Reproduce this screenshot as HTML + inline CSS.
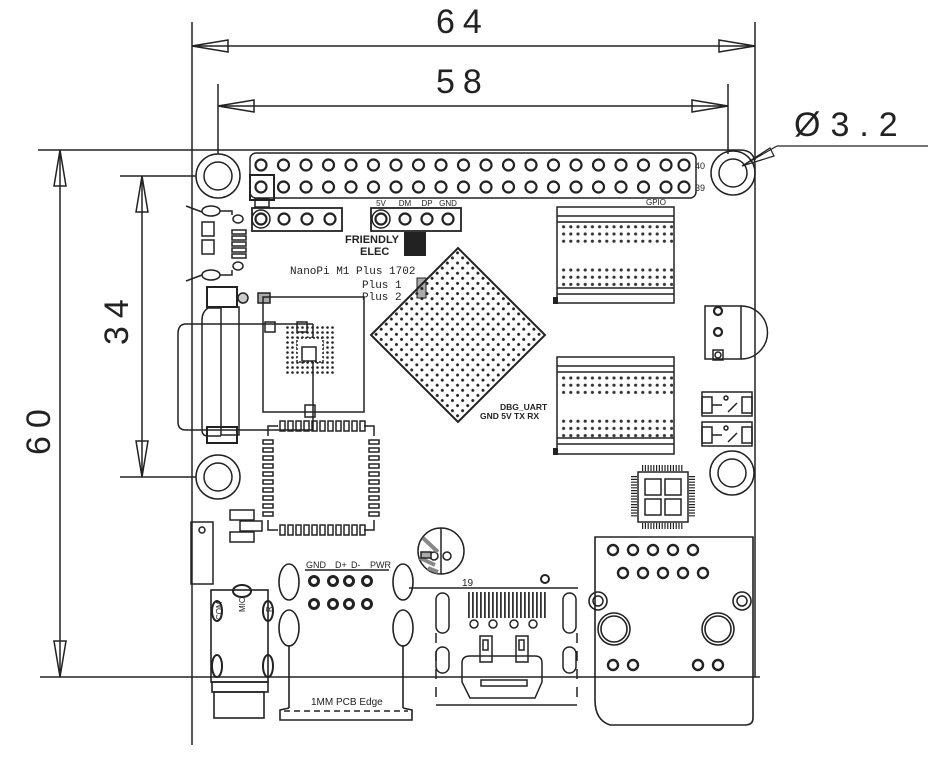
<!DOCTYPE html>
<html><head><meta charset="utf-8"><style>
html,body{margin:0;padding:0;background:#fff;width:951px;height:768px;overflow:hidden}
svg{display:block}
text{font-family:"Liberation Sans",sans-serif;fill:#222}
</style></head><body>
<svg width="951" height="768" viewBox="0 0 951 768" xmlns="http://www.w3.org/2000/svg">
<defs>
<pattern id="bga" x="0" y="0" width="7.2" height="7.2" patternUnits="userSpaceOnUse"><circle cx="3.6" cy="3.6" r="1.5" fill="#222"/></pattern>
<pattern id="ram" x="560" y="0" width="7.2" height="7.2" patternUnits="userSpaceOnUse"><circle cx="3.6" cy="3.6" r="1.6" fill="#333"/></pattern>
<pattern id="emmc" x="0" y="0" width="5" height="5" patternUnits="userSpaceOnUse"><circle cx="2.5" cy="2.5" r="1.3" fill="#222"/></pattern>
<pattern id="hdmi" x="0" y="0" width="4" height="10" patternUnits="userSpaceOnUse"><rect x="0" y="0" width="1.8" height="10" fill="#333"/></pattern>
</defs>
<g fill="none" stroke="#222" stroke-width="1.5">
<line x1="192" y1="22" x2="192" y2="745"/>
<line x1="755" y1="22" x2="755" y2="160"/>
<line x1="192" y1="46" x2="755" y2="46"/>
<polygon points="192,46 228,40 228,52"/><polygon points="755,46 719,40 719,52"/>
<line x1="218" y1="84" x2="218" y2="154"/>
<line x1="728" y1="84" x2="728" y2="154"/>
<line x1="218" y1="106" x2="728" y2="106"/>
<polygon points="218,106 254,100 254,112"/><polygon points="728,106 692,100 692,112"/>
<line x1="38" y1="150" x2="740" y2="150"/>
<line x1="60" y1="150" x2="60" y2="677"/>
<polygon points="60,150 54,186 66,186"/><polygon points="60,677 54,641 66,641"/>
<line x1="120" y1="176" x2="196" y2="176"/>
<line x1="120" y1="477" x2="196" y2="477"/>
<line x1="142" y1="176" x2="142" y2="477"/>
<polygon points="142,176 136,212 148,212"/><polygon points="142,477 136,441 148,441"/>
<line x1="40" y1="677" x2="760" y2="677"/>
<line x1="777" y1="146" x2="928" y2="146" stroke-width="1.2"/>
<line x1="777" y1="146" x2="742" y2="166" stroke-width="1.2"/>
<polygon points="742,166 770,148 774,156" stroke-width="1.2"/>
<path d="M740,150 Q755,150 755,165 L755,677"/>
<circle cx="218" cy="176" r="22"/><circle cx="218" cy="176" r="14"/>
<circle cx="733" cy="173" r="22"/><circle cx="733" cy="173" r="14"/>
<circle cx="218" cy="477" r="22"/><circle cx="218" cy="477" r="14"/>
<circle cx="732" cy="473" r="22"/><circle cx="732" cy="473" r="14"/>
<rect x="250" y="153" width="446" height="45" rx="6"/>
<rect x="250" y="175" width="24" height="25" stroke-width="2"/>
<rect x="255" y="199" width="14" height="8"/>
</g>
<g fill="none" stroke="#222" stroke-width="2.2">
<circle cx="261" cy="165" r="5.5"/><circle cx="283.5" cy="165" r="5.5"/><circle cx="306" cy="165" r="5.5"/><circle cx="328.5" cy="165" r="5.5"/><circle cx="351" cy="165" r="5.5"/><circle cx="373.5" cy="165" r="5.5"/><circle cx="396" cy="165" r="5.5"/><circle cx="418.5" cy="165" r="5.5"/><circle cx="441" cy="165" r="5.5"/><circle cx="463.5" cy="165" r="5.5"/><circle cx="486" cy="165" r="5.5"/><circle cx="508.5" cy="165" r="5.5"/><circle cx="531" cy="165" r="5.5"/><circle cx="553.5" cy="165" r="5.5"/><circle cx="576" cy="165" r="5.5"/><circle cx="598.5" cy="165" r="5.5"/><circle cx="621" cy="165" r="5.5"/><circle cx="643.5" cy="165" r="5.5"/><circle cx="666" cy="165" r="5.5"/><circle cx="684" cy="165" r="5.5"/>
<circle cx="261" cy="187" r="5.5"/><circle cx="283.5" cy="187" r="5.5"/><circle cx="306" cy="187" r="5.5"/><circle cx="328.5" cy="187" r="5.5"/><circle cx="351" cy="187" r="5.5"/><circle cx="373.5" cy="187" r="5.5"/><circle cx="396" cy="187" r="5.5"/><circle cx="418.5" cy="187" r="5.5"/><circle cx="441" cy="187" r="5.5"/><circle cx="463.5" cy="187" r="5.5"/><circle cx="486" cy="187" r="5.5"/><circle cx="508.5" cy="187" r="5.5"/><circle cx="531" cy="187" r="5.5"/><circle cx="553.5" cy="187" r="5.5"/><circle cx="576" cy="187" r="5.5"/><circle cx="598.5" cy="187" r="5.5"/><circle cx="621" cy="187" r="5.5"/><circle cx="643.5" cy="187" r="5.5"/><circle cx="666" cy="187" r="5.5"/><circle cx="684" cy="187" r="5.5"/>
<rect x="252" y="208" width="90" height="23" stroke-width="1.8"/>
<circle cx="261" cy="219" r="9" stroke-width="1.5"/>
<circle cx="261" cy="219" r="5.5"/><circle cx="284" cy="219" r="5.5"/><circle cx="307" cy="219" r="5.5"/><circle cx="330" cy="219" r="5.5"/>
<rect x="371" y="208" width="90" height="23" stroke-width="1.8"/>
<circle cx="381" cy="219" r="9" stroke-width="1.5"/>
<circle cx="381" cy="219" r="5.5"/><circle cx="405" cy="219" r="5.5"/><circle cx="427" cy="219" r="5.5"/><circle cx="448" cy="219" r="5.5"/>
</g>
<g font-size="8" text-anchor="middle">
<text x="381" y="206">5V</text><text x="405" y="206">DM</text><text x="427" y="206">DP</text><text x="448" y="206">GND</text>
<text x="700" y="169" font-size="9">40</text><text x="700" y="191" font-size="9">39</text>
<text x="656" y="205">GPIO</text>
</g>
<text x="345" y="243" font-size="11" font-weight="bold">FRIENDLY</text>
<text x="360" y="255" font-size="11" font-weight="bold">ELEC</text>
<rect x="404" y="232" width="22" height="24" fill="#222"/>
<text x="290" y="274" font-size="11" style="font-family:'Liberation Mono',monospace">NanoPi M1 Plus 1702</text>
<text x="362" y="288" font-size="11" style="font-family:'Liberation Mono',monospace">Plus 1</text>
<text x="362" y="300" font-size="11" style="font-family:'Liberation Mono',monospace">Plus 2</text>
<rect x="417" y="278" width="9" height="20" fill="#aaa" stroke="#222"/>
<g transform="rotate(45 458 335)">
<rect x="396.5" y="273.5" width="123" height="123" fill="url(#bga)" stroke="#222" stroke-width="2"/>
</g>
<text x="500" y="410" font-size="8.5" font-weight="bold">DBG_UART</text>
<text x="480" y="419" font-size="8.5" font-weight="bold">GND 5V TX RX</text>
<g fill="none" stroke="#222" stroke-width="1.5">
<rect x="557" y="207" width="117" height="96"/>
<line x1="557" y1="216" x2="674" y2="216"/><line x1="557" y1="222" x2="674" y2="222"/>
<line x1="557" y1="288" x2="674" y2="288"/><line x1="557" y1="294" x2="674" y2="294"/>
<rect x="557" y="357" width="117" height="97"/>
<line x1="557" y1="366" x2="674" y2="366"/><line x1="557" y1="372" x2="674" y2="372"/>
<line x1="557" y1="438" x2="674" y2="438"/><line x1="557" y1="444" x2="674" y2="444"/>
</g>
<rect x="558" y="224" width="115" height="22" fill="url(#ram)"/>
<rect x="558" y="266" width="115" height="22" fill="url(#ram)"/>
<rect x="558" y="374" width="115" height="22" fill="url(#ram)"/>
<rect x="558" y="416" width="115" height="22" fill="url(#ram)"/>
<rect x="553" y="297" width="5" height="7" fill="#222"/><rect x="553" y="448" width="5" height="7" fill="#222"/>
<g fill="none" stroke="#222" stroke-width="1.5">
<rect x="705" y="306" width="36" height="53"/>
<path d="M741,306 A26,26 0 0 1 741,359"/>
<circle cx="718" cy="311" r="4" stroke-width="2.2"/><circle cx="718" cy="332" r="4" stroke-width="2.2"/>
<rect x="713" y="350" width="10" height="10"/><circle cx="718" cy="355" r="3"/>
<rect x="702" y="392" width="50" height="24"/><rect x="702" y="397" width="10" height="16"/><rect x="742" y="397" width="10" height="16"/>
<circle cx="726" cy="398" r="2"/><line x1="712" y1="405" x2="722" y2="405"/><line x1="728" y1="412" x2="737" y2="403"/>
<rect x="702" y="422" width="50" height="24"/><rect x="702" y="427" width="10" height="16"/><rect x="742" y="427" width="10" height="16"/>
<circle cx="726" cy="428" r="2"/><line x1="712" y1="435" x2="722" y2="435"/><line x1="728" y1="442" x2="737" y2="433"/>
<rect x="202" y="222" width="12" height="14"/><rect x="202" y="240" width="12" height="14"/>
<ellipse cx="211" cy="211" rx="9" ry="5"/><ellipse cx="211" cy="275" rx="9" ry="5"/>
<ellipse cx="238" cy="219" rx="5" ry="4"/><ellipse cx="238" cy="266" rx="5" ry="4"/>
<rect x="232" y="230" width="14" height="4"/><rect x="232" y="236" width="14" height="4"/><rect x="232" y="242" width="14" height="4"/><rect x="232" y="248" width="14" height="4"/><rect x="232" y="254" width="14" height="4"/>
<polyline points="220,211 232,211 232,215"/><polyline points="220,275 232,275 232,270"/>
<line x1="186" y1="206" x2="202" y2="212"/><line x1="186" y1="281" x2="202" y2="275"/>
<rect x="207" y="287" width="30" height="20" stroke-width="2"/>
<circle cx="243" cy="298" r="5" fill="#ccc"/>
<path d="M221,308 L208,308 Q202,312 202,320 L202,430 Q202,436 208,436 L221,436"/>
<rect x="221" y="307" width="18" height="128"/>
<rect x="207" y="427" width="30" height="16" stroke-width="2"/>
<path d="M313,324 L186,324 Q178,324 178,334 L178,422 Q178,430 186,430 L313,430 L313,324"/>
<rect x="258" y="293" width="12" height="10" fill="#aaa"/>
<rect x="263" y="297" width="101" height="115"/>
<rect x="265" y="322" width="10" height="10"/>
<rect x="297" y="322" width="10" height="10"/>
<rect x="305" y="405" width="10" height="12"/>
</g>
<rect x="284" y="325" width="52" height="50" fill="url(#emmc)"/>
<rect x="297" y="338" width="26" height="24" fill="#fff" stroke="#222" stroke-width="1.5" stroke-dasharray="2 2"/>
<rect x="302" y="347" width="14" height="14" fill="#fff" stroke="#222" stroke-width="1.5"/>
<g fill="none" stroke="#222" stroke-width="1.5">
<polyline points="278,426 268,426 268,436"/><polyline points="364,426 374,426 374,436"/>
<polyline points="268,520 268,530 278,530"/><polyline points="364,530 374,530 374,520"/>
<rect x="280" y="421" width="5" height="10"/><rect x="288" y="421" width="5" height="10"/><rect x="296" y="421" width="5" height="10"/><rect x="304" y="421" width="5" height="10"/><rect x="312" y="421" width="5" height="10"/><rect x="320" y="421" width="5" height="10"/><rect x="328" y="421" width="5" height="10"/><rect x="336" y="421" width="5" height="10"/><rect x="344" y="421" width="5" height="10"/><rect x="352" y="421" width="5" height="10"/><rect x="360" y="421" width="5" height="10"/>
<rect x="280" y="525" width="5" height="10"/><rect x="288" y="525" width="5" height="10"/><rect x="296" y="525" width="5" height="10"/><rect x="304" y="525" width="5" height="10"/><rect x="312" y="525" width="5" height="10"/><rect x="320" y="525" width="5" height="10"/><rect x="328" y="525" width="5" height="10"/><rect x="336" y="525" width="5" height="10"/><rect x="344" y="525" width="5" height="10"/><rect x="352" y="525" width="5" height="10"/><rect x="360" y="525" width="5" height="10"/>
<rect x="263" y="440" width="10" height="4"/><rect x="263" y="448" width="10" height="4"/><rect x="263" y="456" width="10" height="4"/><rect x="263" y="464" width="10" height="4"/><rect x="263" y="472" width="10" height="4"/><rect x="263" y="480" width="10" height="4"/><rect x="263" y="488" width="10" height="4"/><rect x="263" y="496" width="10" height="4"/><rect x="263" y="504" width="10" height="4"/><rect x="263" y="512" width="10" height="4"/>
<rect x="369" y="440" width="10" height="4"/><rect x="369" y="448" width="10" height="4"/><rect x="369" y="456" width="10" height="4"/><rect x="369" y="464" width="10" height="4"/><rect x="369" y="472" width="10" height="4"/><rect x="369" y="480" width="10" height="4"/><rect x="369" y="488" width="10" height="4"/><rect x="369" y="496" width="10" height="4"/><rect x="369" y="504" width="10" height="4"/><rect x="369" y="512" width="10" height="4"/>
<rect x="230" y="510" width="24" height="10"/><rect x="240" y="521" width="22" height="10"/><rect x="230" y="532" width="24" height="10"/>
<rect x="191" y="522" width="22" height="62"/><circle cx="202" cy="530" r="3"/>
<rect x="638" y="472" width="50" height="50"/>
<rect x="645" y="479" width="16" height="16"/><rect x="665" y="479" width="16" height="16"/><rect x="645" y="499" width="16" height="16"/><rect x="665" y="499" width="16" height="16"/>
<path d="M642,468 h42 M642,526 h42 M634,476 v42 M692,476 v42" stroke-width="6" stroke-dasharray="1.2 1.6"/>
</g>
<g fill="none" stroke="#222" stroke-width="1.6">
<rect x="211" y="590" width="57" height="92"/>
<rect x="212" y="682" width="56" height="10"/>
<rect x="214" y="692" width="50" height="26"/>
<ellipse cx="217" cy="611" rx="5" ry="10" stroke-width="2"/><ellipse cx="242" cy="591" rx="9" ry="6" stroke-width="2"/><ellipse cx="268" cy="611" rx="5" ry="10" stroke-width="2"/>
<ellipse cx="217" cy="666" rx="5" ry="11" stroke-width="2"/><ellipse cx="268" cy="666" rx="5" ry="11" stroke-width="2"/>
<ellipse cx="289" cy="582" rx="10" ry="18"/><ellipse cx="289" cy="628" rx="10" ry="18"/>
<ellipse cx="403" cy="582" rx="10" ry="18"/><ellipse cx="403" cy="628" rx="10" ry="18"/>
<line x1="289" y1="645" x2="289" y2="708"/><line x1="403" y1="645" x2="403" y2="708"/>
<polyline points="289,708 280,710 280,720 412,720 412,710 403,708"/>
<line x1="284" y1="711" x2="408" y2="711" stroke-dasharray="6 4"/>
<line x1="305" y1="570" x2="389" y2="570"/>
</g>
<g fill="none" stroke="#222" stroke-width="3">
<circle cx="314" cy="581" r="4.5"/><circle cx="333" cy="581" r="4.5"/><circle cx="349" cy="581" r="4.5"/><circle cx="367" cy="581" r="4.5"/>
<circle cx="314" cy="604" r="4.5"/><circle cx="333" cy="604" r="4.5"/><circle cx="349" cy="604" r="4.5"/><circle cx="367" cy="604" r="4.5"/>
</g>
<g font-size="9">
<text x="306" y="568">GND</text><text x="335" y="568">D+</text><text x="351" y="568">D-</text><text x="370" y="568">PWR</text>
<text x="311" y="705" font-size="10">1MM PCB Edge</text>
<text x="462" y="586" font-size="10">19</text>
</g>
<text transform="translate(222,620) rotate(-90)" font-size="8">COM</text>
<text transform="translate(245,612) rotate(-90)" font-size="8">MIC</text>
<text transform="translate(272,612) rotate(-90)" font-size="8">R</text>
<g fill="none" stroke="#222" stroke-width="1.5">
<circle cx="441" cy="551" r="23"/><line x1="441" y1="528" x2="441" y2="574"/>
<circle cx="434" cy="556" r="4"/><circle cx="447" cy="556" r="4"/>
<path d="M423,538 L438,552 M420,558 L435,565 M428,568 L438,572" stroke="#888" stroke-width="4"/>
<rect x="421" y="552" width="10" height="6" fill="#aaa"/>
<line x1="409" y1="588" x2="578" y2="588"/><circle cx="545" cy="579" r="4" stroke-width="2"/>
<rect x="436" y="593" width="13" height="40" rx="6.5"/><rect x="563" y="593" width="13" height="40" rx="6.5"/>
<rect x="436" y="647" width="13" height="26" rx="6.5"/><rect x="563" y="647" width="13" height="26" rx="6.5"/>
<line x1="436" y1="633" x2="436" y2="705" stroke-dasharray="10 8"/>
<line x1="577" y1="633" x2="577" y2="705" stroke-dasharray="10 8"/>
<line x1="436" y1="705" x2="577" y2="705"/>
<circle cx="474" cy="624" r="4"/><circle cx="493" cy="624" r="4"/><circle cx="514" cy="624" r="4"/><circle cx="533" cy="624" r="4"/>
<path d="M462,663 Q462,656 470,656 L535,656 Q542,656 542,663 L542,682 L535,698 L470,698 L462,682 Z"/>
<rect x="480" y="636" width="12" height="26"/><rect x="516" y="636" width="12" height="26"/>
<rect x="483" y="640" width="5" height="10"/><rect x="519" y="640" width="5" height="10"/>
<rect x="481" y="680" width="46" height="6"/>
</g>
<rect x="467" y="592" width="80" height="26" fill="url(#hdmi)"/>
<g fill="none" stroke="#222" stroke-width="1.6">
<path d="M595,537 L753,537 L753,718 Q753,725 745,725 L610,725 Q595,720 595,700 Z"/>
<circle cx="598" cy="601" r="9"/><circle cx="742" cy="601" r="9"/>
<circle cx="614" cy="629" r="16"/><circle cx="718" cy="629" r="16"/>
<circle cx="614" cy="629" r="13"/><circle cx="718" cy="629" r="13"/>
</g>
<g fill="none" stroke="#222" stroke-width="2.4">
<circle cx="613" cy="550" r="5"/><circle cx="633" cy="550" r="5"/><circle cx="653" cy="550" r="5"/><circle cx="673" cy="550" r="5"/><circle cx="693" cy="550" r="5"/>
<circle cx="623" cy="573" r="5"/><circle cx="643" cy="573" r="5"/><circle cx="663" cy="573" r="5"/><circle cx="683" cy="573" r="5"/><circle cx="703" cy="573" r="5"/>
<circle cx="613" cy="665" r="5"/><circle cx="633" cy="665" r="5"/><circle cx="698" cy="665" r="5"/><circle cx="718" cy="665" r="5"/>
<circle cx="598" cy="601" r="5" stroke-width="1.5"/><circle cx="742" cy="601" r="5" stroke-width="1.5"/>
</g>
<g font-size="34" fill="#333">
<text x="436" y="33" letter-spacing="8">64</text>
<text x="436" y="93" letter-spacing="8">58</text>
<text x="794" y="136" letter-spacing="10">Ø3.2</text>
<text transform="translate(128,345) rotate(-90)" letter-spacing="8">34</text>
<text transform="translate(50,455) rotate(-90)" letter-spacing="8">60</text>
</g>
</svg>
</body></html>
